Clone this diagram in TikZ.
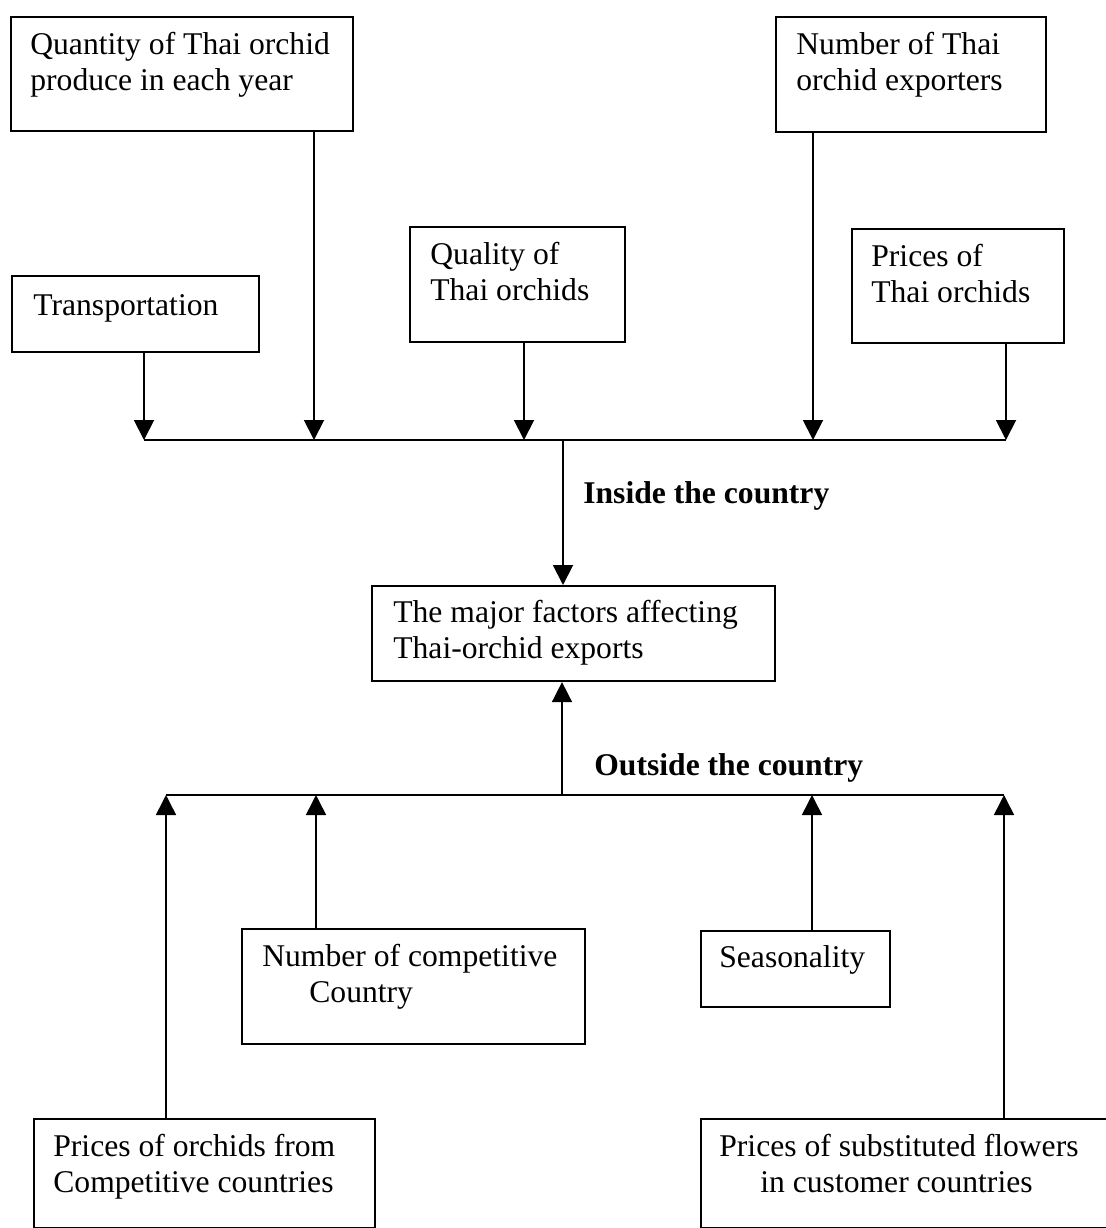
\documentclass[tikz,border=0pt]{standalone}
\usepackage{fontspec}
\setmainfont{Liberation Serif}
\usetikzlibrary{arrows.meta}
\tikzset{
  factor/.style={draw, line width=1.2pt, anchor=north west, inner sep=0pt},
  factortext/.style={anchor=base west, align=left, inner sep=0pt,
    font=\fontsize{18}{20}\selectfont},
  sidetext/.style={anchor=base west, inner sep=0pt,
    font=\fontsize{18}{20}\selectfont\bfseries}
}

\begin{document}
\begin{tikzpicture}[x=0.02cm,y=-0.02cm,>={Triangle[length=0.4cm,width=0.4cm]}]
        \useasboundingbox (0,0) rectangle (1106,1228);
        % draw the boxes inside the country
        \node[factor, minimum width=6.84cm, minimum height=2.28cm] (qty) at (10,16) {};
        \node[factor, minimum width=4.94cm, minimum height=1.52cm] (trans) at (11,275) {};
        \node[factor, minimum width=4.30cm, minimum height=2.30cm] (qual) at (409,226) {};
        \node[factor, minimum width=5.40cm, minimum height=2.30cm] (numexp) at (775,16) {};
        \node[factor, minimum width=4.24cm, minimum height=2.28cm] (price) at (851,228) {};
        % texts sit on the baseline of their last line
        \node[factortext] (qtytext) at (30,90) {Quantity of Thai orchid\\produce in each year};
        \node[factortext] (transtext) at (33,315) {Transportation};
        \node[factortext] (qualtext) at (430,300) {Quality of\\Thai orchids};
        \node[factortext] (numexptext) at (796,90) {Number of Thai\\orchid exporters};
        \node[factortext] (pricetext) at (871,302) {Prices of\\Thai orchids};
        % draw the box in the middle
        \node[factor, minimum width=8.06cm, minimum height=1.90cm] (major) at (371,585) {};
        \node[factortext] (majortext) at (393,658) {The major factors affecting\\Thai-orchid exports};
        % draw the boxes outside the country
        \node[factor, minimum width=6.86cm, minimum height=2.30cm] (numcomp) at (241,928) {};
        \node[factor, minimum width=3.78cm, minimum height=1.52cm] (season) at (700,930) {};
        \node[factor, minimum width=6.82cm, minimum height=2.18cm] (pcomp) at (33,1118) {};
        \node[factor, minimum width=8.80cm, minimum height=2.18cm] (psub) at (700,1118) {};
        \node[factortext] (numcomptext) at (262,1002) {Number of competitive\\\hspace*{0.94cm}Country};
        \node[factortext] (seasontext) at (719,967) {Seasonality};
        \node[factortext] (pcomptext) at (53,1192) {Prices of orchids from\\Competitive countries};
        \node[factortext] (psubtext) at (719,1192) {Prices of substituted flowers\\\hspace*{0.82cm}in customer countries};

        % draw the inside line and its arrows
        \coordinate (inT) at (144,440);
        \coordinate (inQ) at (314,440);
        \coordinate (inL) at (524,440);
        \coordinate (inN) at (813,440);
        \coordinate (inP) at (1006,440);
        \coordinate (inC) at (563,440);
        \draw[line width=1.1pt] (inT) -- (inP);
        \foreach \src/\pt in {trans/inT, qty/inQ, qual/inL, numexp/inN, price/inP}
                \draw[->, line width=1.1pt] (\src.south -| \pt) -- (\pt);
        \draw[->, line width=1.1pt] (inC) -- (major.north -| inC);
        \node[sidetext] (inside) at (583,503) {Inside the country};

        % draw the outside line and its arrows
        \coordinate (outA) at (166,795);
        \coordinate (outB) at (316,795);
        \coordinate (outS) at (812,795);
        \coordinate (outF) at (1004,795);
        \coordinate (outC) at (562,795);
        \draw[line width=1.1pt] (outA) -- (outF);
        \foreach \src/\pt in {pcomp/outA, numcomp/outB, season/outS, psub/outF}
                \draw[->, line width=0.9pt] (\src.north -| \pt) -- (\pt);
        \draw[->, line width=0.9pt] (outC) -- (major.south -| outC);
        \node[sidetext] (outside) at (594,775) {Outside the country};
\end{tikzpicture}
\end{document}
